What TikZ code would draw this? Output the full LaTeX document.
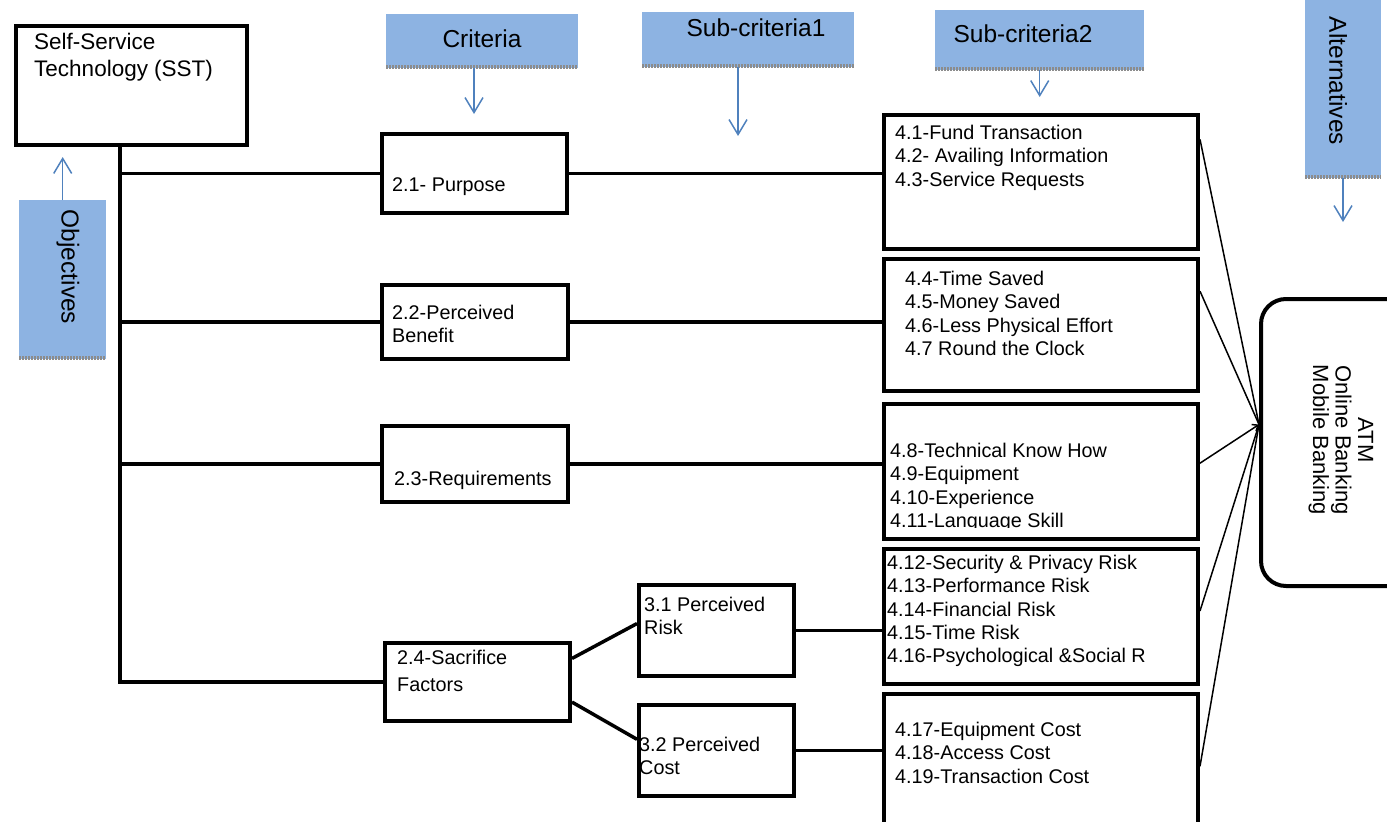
\documentclass[tikz,border=0pt]{standalone}
\usepackage{fontspec}
\setmainfont{Liberation Sans}
\usetikzlibrary{positioning, arrows.meta}

\definecolor{headblue}{HTML}{8DB3E2}
\definecolor{arrowblue}{HTML}{4F81BD}
\definecolor{shadowgray}{HTML}{8C8C8C}

\tikzset{
    box/.style={draw, line width=4pt, rectangle, anchor=north west, inner sep=0pt},
    head/.style={fill=headblue, rectangle, anchor=north west, inner sep=0pt,
        path picture={\draw[shadowgray, line width=6pt, dash pattern=on 1.5pt off 1.5pt]
            (path picture bounding box.south west) -- (path picture bounding box.south east);}},
    headtext/.style={inner sep=0pt, font=\fontsize{24.5}{28}\selectfont},
    itemtext/.style={anchor=north west, align=left, inner sep=0pt, font=\fontsize{19.8}{23.3}\selectfont},
    link/.style={line width=3.5pt},
    thinlink/.style={line width=1.5pt},
    hdrarrow/.style={arrowblue, line width=1.5pt, -{Straight Barb[length=15pt, width=18pt, line width=1.5pt]}}
}

\begin{document}
\begin{tikzpicture}[x=1pt, y=-1pt]
    \useasboundingbox (0,0) rectangle (1387,822);

    \node[box, minimum width=231pt, minimum height=119pt] (sst) at (14,24) {};
    \node[itemtext, font=\fontsize{22.5}{27}\selectfont] (sst-t) at (34,33) {Self-Service\\Technology (SST)};

    \node[head, minimum width=87pt, minimum height=159pt] (obj) at (19,200) {};
    \node[headtext, rotate=-90] (obj-t) at (68,267) {Objectives};
    \node[head, minimum width=192pt, minimum height=54pt] (crit) at (386,14) {};
    \node[headtext] (crit-t) at (482,38.5) {Criteria};
    \node[head, minimum width=212pt, minimum height=55pt] (sub1) at (642,12) {};
    \node[headtext] (sub1-t) at (756,27.5) {Sub-criteria1};
    \node[head, minimum width=209pt, minimum height=60pt] (sub2) at (935,10) {};
    \node[headtext] (sub2-t) at (1023,34) {Sub-criteria2};
    \node[head, minimum width=76pt, minimum height=178pt] (alts) at (1305,0) {};
    \node[headtext, rotate=-90] (alts-t) at (1338,81) {Alternatives};

    \node[box, minimum width=185pt, minimum height=79pt] (purpose) at (380,132) {};
    \node[itemtext] (purpose-t) at (392,177) {2.1- Purpose};
    \node[box, minimum width=186pt, minimum height=74pt] (benefit) at (380,283) {};
    \node[itemtext] (benefit-t) at (392,305) {2.2-Perceived\\Benefit};
    \node[box, minimum width=186pt, minimum height=76pt] (req) at (380,424) {};
    \node[itemtext] (req-t) at (394,471) {2.3-Requirements};
    \node[box, minimum width=185pt, minimum height=78pt] (sac) at (383,641) {};
    \node[itemtext, font=\fontsize{19.8}{27}\selectfont] (sac-t) at (397,650) {2.4-Sacrifice\\Factors};

    \node[box, minimum width=155pt, minimum height=91pt] (risk) at (637,583) {};
    \node[itemtext] (risk-t) at (644,597) {3.1 Perceived\\Risk};
    \node[box, minimum width=155pt, minimum height=91pt] (cost) at (637,703) {};
    \node[itemtext] (cost-t) at (639,737) {3.2 Perceived\\Cost};

    \node[box, minimum width=314pt, minimum height=134pt] (s41) at (882,113) {};
    \node[itemtext] (s41-t) at (895,125) {4.1-Fund Transaction\\4.2- Availing Information\\4.3-Service Requests};
    \node[box, minimum width=314pt, minimum height=132pt] (s44) at (882,257) {};
    \node[itemtext] (s44-t) at (905,271) {4.4-Time Saved\\4.5-Money Saved\\4.6-Less Physical Effort\\4.7 Round the Clock};
    \node[box, minimum width=314pt, minimum height=135pt] (s48) at (882,402) {};
    \begin{scope}
        \clip (882,402) rectangle (1196,527);
        \node[itemtext] (s48-t) at (890,443) {4.8-Technical Know How\\4.9-Equipment\\4.10-Experience\\4.11-Language Skill};
    \end{scope}
    \node[box, minimum width=314pt, minimum height=135pt] (s412) at (882,547) {};
    \node[itemtext] (s412-t) at (887,555) {4.12-Security \& Privacy Risk\\4.13-Performance Risk\\4.14-Financial Risk\\4.15-Time Risk\\4.16-Psychological \&Social R};
    \node[box, minimum width=314pt, minimum height=150pt] (s417) at (882,692) {};
    \node[itemtext] (s417-t) at (895,722) {4.17-Equipment Cost\\4.18-Access Cost\\4.19-Transaction Cost};

    \node[box, rounded corners=25pt, minimum width=160pt, minimum height=287pt] (alt) at (1259,297) {};
    \node[rotate=-90, align=center, inner sep=0pt, font=\fontsize{22}{22.5}\selectfont] (alt-t) at (1341,440) {ATM\\Online Banking\\Mobile Banking};

    \coordinate (trunk) at (120,0);
    \coordinate (hub) at ([yshift=18pt]alt.west);
    \coordinate (sub1-end) at (738,136);
    \coordinate (alts-end) at (1343,222);

    \draw[hdrarrow] (obj.north) -- ([yshift=-10pt]sst.south -| obj.north);
    \draw[hdrarrow] (crit.south -| 474,0) -- ([yshift=18pt]purpose.north -| 474,0);
    \draw[hdrarrow] (sub1.south -| sub1-end) -- (sub1-end);
    \draw[hdrarrow] (sub2.south) -- ([yshift=16pt]s41.north -| sub2.south);
    \draw[hdrarrow] (alts.south -| alts-end) -- (alts-end);

    \draw[link] (sst.south -| trunk) -- (sac.west -| trunk) -- (sac.west);
    \draw[link] (purpose.west -| trunk) -- (purpose.west);
    \draw[link] (benefit.west -| trunk) -- (benefit.west);
    \draw[link] (req.west -| trunk) -- (req.west);

    \draw[link] (purpose.east) -- (purpose.east -| s41.west);
    \draw[link] (benefit.east) -- (benefit.east -| s44.west);
    \draw[link] (req.east) -- (req.east -| s48.west);
    \draw[link] (sac.14) -- (risk.175);
    \draw[link] (sac.-12) -- (cost.172);
    \draw[link] (risk.east) -- (risk.east -| s412.west);
    \draw[link] (cost.east) -- (cost.east -| s417.west);

    \draw[thinlink] (s41.15) -- (hub);
    \draw[thinlink] (s44.12) -- (hub);
    \draw[thinlink, -{Straight Barb[length=5pt, width=8pt]}] (s48.3) -- (hub);
    \draw[thinlink] (s412.2) -- (hub);
    \draw[thinlink] (s417.1) -- (hub);
\end{tikzpicture}
\end{document}
